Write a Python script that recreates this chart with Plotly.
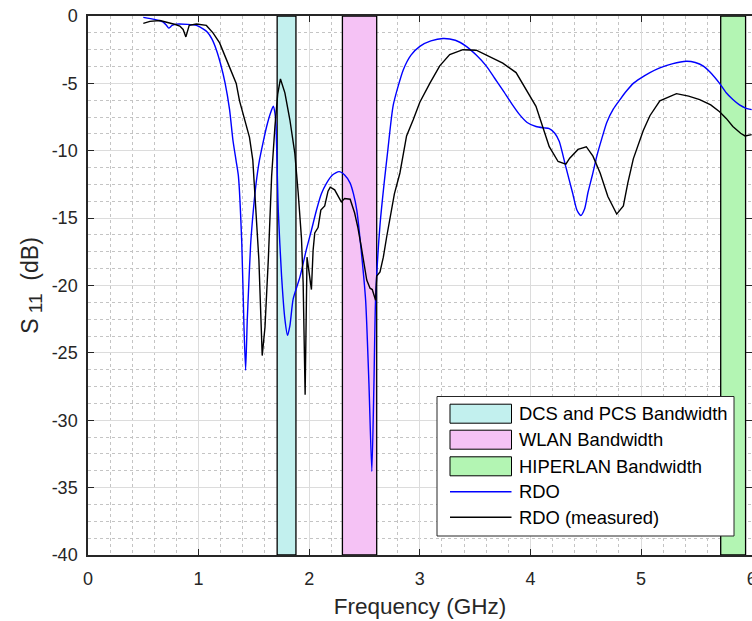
import plotly.graph_objects as go

# ---------------- data ----------------
rdo_freq = [0.50, 0.60, 0.68, 0.71, 0.73, 0.76, 0.80, 0.90, 0.98, 1.04, 1.08, 1.12, 1.16, 1.20,
            1.24, 1.28, 1.31, 1.34, 1.36, 1.39, 1.41, 1.425, 1.44, 1.45, 1.47, 1.495, 1.52, 1.55,
            1.585, 1.615, 1.65, 1.675, 1.69, 1.70, 1.72, 1.75, 1.78, 1.804, 1.825, 1.855, 1.915,
            1.975, 2.02, 2.066, 2.11, 2.157, 2.21, 2.27, 2.32, 2.37, 2.40, 2.43, 2.47, 2.51, 2.54,
            2.566, 2.585, 2.60, 2.64, 2.68, 2.71, 2.76, 2.85, 2.92, 3.0, 3.1, 3.21, 3.32, 3.42,
            3.51, 3.60, 3.675, 3.75, 3.83, 3.90, 3.97, 4.05, 4.12, 4.17, 4.22, 4.26, 4.32, 4.38,
            4.42, 4.455, 4.49, 4.52, 4.56, 4.60, 4.645, 4.69, 4.75, 4.81, 4.87, 4.93, 4.99, 5.08,
            5.17, 5.28, 5.41, 5.49, 5.56, 5.64, 5.71, 5.77, 5.83, 5.89, 5.95, 6.0]
rdo_s11 = [-0.10, -0.25, -0.45, -0.70, -0.90, -0.70, -0.60, -0.62, -0.70, -0.95, -1.2, -1.7, -2.5, -3.6,
           -5.0, -6.95, -9.2, -10.8, -11.9, -16.8, -23.0, -26.3, -22.5, -20.6, -17.0, -14.4, -12.4, -10.7,
           -9.3, -8.2, -7.2, -6.7, -7.2, -8.2, -14.4, -19.3, -22.5, -23.7, -23.0, -21.0, -19.4,
           -17.3, -15.9, -14.4, -13.2, -12.4, -11.8, -11.55, -11.8, -12.4, -13.2, -14.4, -17.4, -21.1, -27.3,
           -33.8, -27.3, -21.0, -15.5, -12.2, -10.0, -6.6, -4.0, -2.9, -2.25, -1.85, -1.67, -1.8, -2.25,
           -2.9, -3.7, -4.6, -5.5, -6.5, -7.3, -7.9, -8.2, -8.3, -8.35, -8.7, -9.3, -11.2, -13.1,
           -14.4, -14.8, -14.3, -13.1, -11.8, -10.4, -9.1, -7.9, -6.9, -6.2, -5.55, -5.0, -4.65, -4.2,
           -3.85, -3.55, -3.36, -3.45, -3.7, -4.3, -5.0, -5.7, -6.2, -6.6, -6.85, -6.95]

meas_freq = [0.50, 0.56, 0.65, 0.71, 0.79, 0.83, 0.86, 0.885, 0.915, 0.98, 1.07, 1.13, 1.19, 1.25,
             1.31, 1.34, 1.37, 1.40, 1.43, 1.46, 1.49, 1.52, 1.545, 1.575, 1.60, 1.63, 1.66, 1.69,
             1.715, 1.74, 1.78, 1.825, 1.87, 1.90, 1.93, 1.945, 1.963, 1.98, 2.0, 2.02, 2.035, 2.05,
             2.08, 2.105, 2.14, 2.17, 2.19, 2.23, 2.27, 2.29, 2.32, 2.37, 2.41, 2.44, 2.47, 2.50,
             2.52, 2.55, 2.57, 2.60, 2.61, 2.64, 2.67, 2.70, 2.73, 2.77, 2.82, 2.88, 2.94, 3.0,
             3.09, 3.18, 3.27, 3.39, 3.51, 3.63, 3.75, 3.87, 3.96, 4.05, 4.11, 4.17, 4.25, 4.32,
             4.355, 4.43, 4.505, 4.565, 4.63, 4.70, 4.78, 4.84, 4.88, 4.93, 5.02, 5.08, 5.17, 5.32,
             5.43, 5.53, 5.63, 5.71, 5.77, 5.83, 5.90, 5.94, 6.0]
meas_s11 = [-0.55, -0.40, -0.33, -0.45, -0.63, -0.75, -1.0, -1.55, -0.70, -0.60, -0.70, -1.25, -2.0, -3.2,
            -4.5, -5.0, -6.3, -7.2, -7.9, -9.0, -10.7, -14.4, -18.1, -25.2, -23.1, -18.1, -11.9, -8.2,
            -5.8, -4.67, -5.7, -7.7, -10.2, -13.1, -16.5, -19.8, -28.1, -17.9, -19.1, -20.3, -17.4, -16.1,
            -15.7, -14.4, -14.1, -13.0, -12.7, -12.9, -13.5, -13.8, -13.55, -13.6, -14.6, -15.7, -17.1, -18.6,
            -19.6, -20.2, -20.3, -21.1, -19.3, -19.0, -17.9, -16.4, -14.9, -13.2, -11.65, -8.9, -7.7, -6.4,
            -5.0, -3.7, -2.86, -2.5, -2.54, -3.0, -3.5, -4.2, -5.5, -6.7, -8.2, -9.7, -10.8, -11.0,
            -10.55, -9.9, -9.7, -10.4, -11.65, -13.4, -14.7, -14.1, -12.4, -10.6, -8.5, -7.4, -6.3, -5.76,
            -5.95, -6.2, -6.6, -7.1, -7.6, -8.2, -8.7, -8.9, -8.8]

band_names = ["DCS and PCS Bandwidth", "WLAN Bandwidth", "HIPERLAN Bandwidth"]
band_lo = [1.71, 2.30, 5.72]
band_hi = [1.88, 2.61, 5.945]
band_colors = ["#c2f0ee", "#f5c2f5", "#b3f5b3"]

line_names = ["RDO", "RDO (measured)"]
line_colors = ["#0000ff", "#000000"]

x_ticks = [0, 1, 2, 3, 4, 5, 6]
y_ticks = [0, -5, -10, -15, -20, -25, -30, -35, -40]
y_ticktext = ["0", "-5", "-10", "-15", "-20", "-25", "-30", "-35", "-40"]

Y_MIN, Y_MAX = -40, 0
X_MIN, X_MAX = 0, 6.003

# ---------------- figure ----------------
W, H = 752, 621
ML, MR, MT, MB = 88, 0, 16, 66
PW, PH = W - ML - MR, H - MT - MB

fig = go.Figure()

for name, lo, hi, col in zip(band_names, band_lo, band_hi, band_colors):
    fig.add_trace(go.Scatter(
        x=[lo, hi, hi, lo, lo], y=[Y_MIN, Y_MIN, Y_MAX, Y_MAX, Y_MIN],
        mode="lines", fill="toself", fillcolor=col,
        line=dict(color="#000000", width=1.3), name=name, showlegend=False,
        hoverinfo="skip"))

fig.add_trace(go.Scatter(x=rdo_freq, y=rdo_s11, mode="lines", name=line_names[0],
                         line=dict(color=line_colors[0], width=1.4, shape="spline", smoothing=0.6),
                         showlegend=False))
fig.add_trace(go.Scatter(x=meas_freq, y=meas_s11, mode="lines", name=line_names[1],
                         line=dict(color=line_colors[1], width=1.4),
                         showlegend=False))

FONT = "Liberation Sans, Arial, sans-serif"
AX = "#262626"

def px2paper_x(px):
    return (px - ML) / PW

def px2paper_y(py):
    return (H - MB - py) / PH

shapes = []
annotations = []
# custom legend box
shapes.append(dict(type="rect", xref="paper", yref="paper",
                   x0=px2paper_x(437), x1=px2paper_x(734),
                   y0=px2paper_y(536), y1=px2paper_y(396.5),
                   fillcolor="white", line=dict(color=AX, width=1), layer="above"))
row_centers = [413.7, 439.7, 466.3, 491.7, 517.3]
for i, (name, col) in enumerate(zip(band_names, band_colors)):
    yc = row_centers[i]
    shapes.append(dict(type="rect", xref="paper", yref="paper",
                       x0=px2paper_x(450), x1=px2paper_x(511.5),
                       y0=px2paper_y(yc + 9.5), y1=px2paper_y(yc - 9.5),
                       fillcolor=col, line=dict(color="#000000", width=1), layer="above"))
for j, (name, col) in enumerate(zip(line_names, line_colors)):
    yc = row_centers[3 + j]
    shapes.append(dict(type="line", xref="paper", yref="paper",
                       x0=px2paper_x(450), x1=px2paper_x(511.5),
                       y0=px2paper_y(yc), y1=px2paper_y(yc),
                       line=dict(color=col, width=1.5), layer="above"))
all_names = band_names + line_names
for name, yc in zip(all_names, row_centers):
    annotations.append(dict(xref="paper", yref="paper", x=px2paper_x(517), y=px2paper_y(yc),
                            text=name, showarrow=False, xanchor="left", yanchor="middle",
                            font=dict(family=FONT, size=18.4, color="#000000")))

axis_common = dict(
    showline=True, linecolor=AX, linewidth=1.5, mirror="allticks",
    ticks="inside", ticklen=6, tickwidth=1, tickcolor=AX,
    showgrid=True, gridcolor="#dcdcdc", gridwidth=1.2,
    zeroline=False,
    tickfont=dict(family=FONT, size=18, color=AX),
)

fig.update_layout(
    width=W, height=H,
    margin=dict(l=ML, r=MR, t=MT, b=MB, autoexpand=False),
    paper_bgcolor="white", plot_bgcolor="white",
    showlegend=False,
    shapes=shapes, annotations=annotations,
    xaxis=dict(range=[X_MIN, X_MAX], tickvals=x_ticks, automargin=False, ticklabelstandoff=7,
               ticklabeloverflow="allow",
               title=dict(text="Frequency (GHz)", font=dict(family=FONT, size=22.5, color=AX), standoff=10),
               minor=dict(dtick=0.2, tick0=0, showgrid=True, gridcolor="#c4c4c4", griddash="dot", gridwidth=1),
               **axis_common),
    yaxis=dict(range=[Y_MIN, Y_MAX], tickvals=y_ticks, ticktext=y_ticktext, automargin=False,
               ticklabelstandoff=5,
               title=dict(text="S<sub><span style='font-size:19px'> 11</span></sub>  (dB)",
                          font=dict(family=FONT, size=23, color=AX), standoff=7),
               minor=dict(dtick=1.25, tick0=0, showgrid=True, gridcolor="#c4c4c4", griddash="dot", gridwidth=1),
               **axis_common),
)

fig.write_html("out.html", config={"displayModeBar": False},
               post_script="document.body.style.margin='0';document.body.style.padding='0';"
                           "document.body.style.overflow='hidden';")
